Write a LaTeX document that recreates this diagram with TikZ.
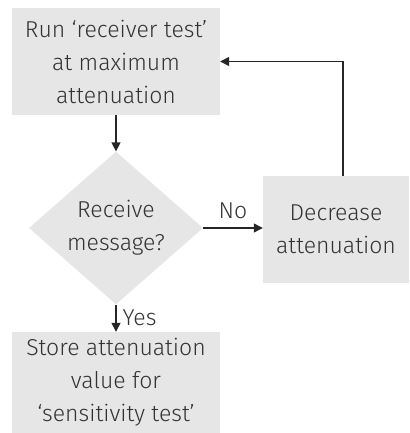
\documentclass[tikz,border=0pt]{standalone}
\usepackage{fontspec}
\setmainfont{Fira Sans}[UprightFont=* Light]
\usetikzlibrary{shapes.geometric,arrows.meta}
\definecolor{boxgray}{HTML}{E6E6E7}
\definecolor{textgray}{HTML}{333333}
\tikzset{
  flowbox/.style = {fill = boxgray, draw = none, inner sep = 0pt, align = center,
    text = textgray, font = \fontsize{23}{33}\selectfont},
  flowline/.style = {draw = black!85, line width = 1.3pt, -{Triangle[length = 9pt, width = 9pt]}},
  flowlabel/.style = {text = textgray, font = \fontsize{23}{33}\selectfont, inner sep = 0pt}
}
\begin{document}
\begin{tikzpicture}[x = 1pt, y = -1pt]
\useasboundingbox (0,0) rectangle (409,433);
\pgfmathsetlengthmacro\boxw{208pt};
\pgfmathsetlengthmacro\boxh{107pt};
\node[flowbox, minimum width = \boxw, minimum height = \boxh] (run) at (116,61.5) {Run ‘receiver test’\\at maximum\\attenuation};
\node[flowbox, shape = diamond, minimum width = 174pt, minimum height = 142pt] (msg) at (116,228) {Receive\\message?};
\node[flowbox, minimum width = 146pt, minimum height = \boxh] (dec) at (336,229.5) {Decrease\\attenuation};
\node[flowbox, minimum width = \boxw, minimum height = 101pt] (store) at (116,382.5) {Store attenuation\\value for\\‘sensitivity test’};
\coordinate (up) at (343,61.5);
\draw[flowline] (run) -- (msg);
\draw[flowline] (msg.east) -- (dec.west |- msg.east) node[flowlabel, midway, above = 9pt] (no) {No};
\draw[flowline] (msg) -- (store) node[flowlabel, midway, right = 6pt] (yes) {Yes};
\draw[flowline] (dec.north -| up) |- (run.east);
\end{tikzpicture}
\end{document}
